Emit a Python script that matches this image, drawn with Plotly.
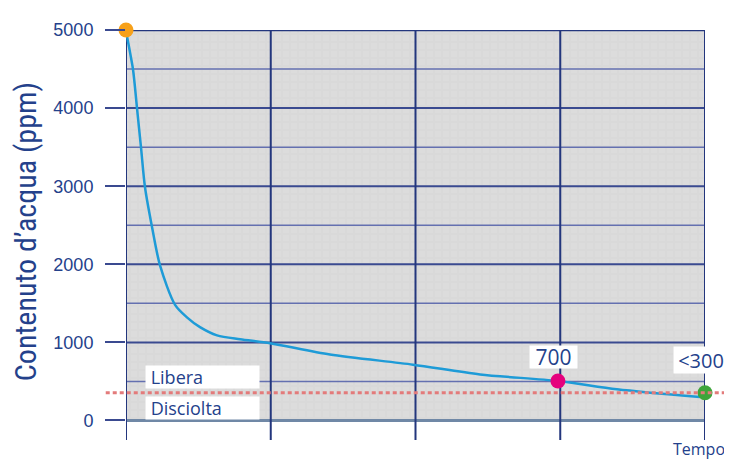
import plotly.graph_objects as go

# ---- data ----
time_pos = [0, 0.007, 0.048, 0.076, 0.104, 0.131, 0.180, 0.235, 0.339, 0.421,
            0.511, 0.629, 0.788, 0.995, 1.409, 1.983, 2.446, 2.984, 3.392, 3.965]
water_ppm = [5000, 4920, 4500, 4000, 3490, 2990, 2475, 1985, 1480, 1320,
             1195, 1090, 1040, 990, 845, 715, 590, 505, 400, 300]

point_x = [0, 2.984, 4.0]
point_y = [5000, 505, 355]
point_colors = ["#F7A11A", "#E5007D", "#3EA53A"]

saturation_ppm = 354
y_major = [0, 1000, 2000, 3000, 4000, 5000]
y_minor = [500, 1500, 2500, 3500, 4500]
x_grid = [0, 1, 2, 3, 4]
x_min, x_max = 0, 4
y_min, y_max = -250, 5000

NAVY = "#23367D"
TXT = "#24418B"

fig = go.Figure()

# patterned background area (0..5000)
fig.add_trace(go.Bar(
    x=[(x_min + x_max) / 2], y=[y_major[-1]], base=0, width=[x_max - x_min],
    marker=dict(color="#dcdcdc", line_width=0,
                pattern=dict(shape="+", fgcolor="#c9c9c9", size=8, solidity=0.12,
                             fillmode="overlay")),
    hoverinfo="skip", showlegend=False))

def seg_trace(xs, ys, color, width):
    fig.add_trace(go.Scatter(x=xs, y=ys, mode="lines",
                             line=dict(color=color, width=width),
                             hoverinfo="skip", showlegend=False))

# minor horizontal grid
xs, ys = [], []
for v in y_minor:
    xs += [x_min, x_max, None]; ys += [v, v, None]
seg_trace(xs, ys, "#6470B0", 1.5)
# major horizontal grid
xs, ys = [], []
for v in y_major[1:-1]:
    xs += [x_min, x_max, None]; ys += [v, v, None]
seg_trace(xs, ys, "#3A4A90", 2)
# zero line
seg_trace([x_min, x_max], [0, 0], "#7088A6", 3)
# top line
seg_trace([x_min, x_max], [y_major[-1], y_major[-1]], NAVY, 2.5)
# vertical grid
xs, ys = [], []
for v in x_grid:
    xs += [v, v, None]; ys += [y_min, y_max, None]
seg_trace(xs, ys, NAVY, 2)

# curve
fig.add_trace(go.Scatter(x=time_pos, y=water_ppm, mode="lines",
                         line=dict(color="#1E9BD7", width=2.5, shape="spline", smoothing=0.8),
                         hoverinfo="skip", showlegend=False))

# points
fig.add_trace(go.Scatter(x=point_x, y=point_y, mode="markers",
                         marker=dict(size=15, color=point_colors),
                         cliponaxis=False, hoverinfo="skip", showlegend=False))

# saturation dashed line
fig.add_shape(type="line", xref="paper", yref="y", x0=-0.035, x1=1.05,
              y0=saturation_ppm, y1=saturation_ppm,
              line=dict(color="#E37B7B", width=3, dash="4px,3px"), layer="above")

ann_font = dict(family="Open Sans", color=TXT)
fig.add_annotation(xref="paper", yref="y", x=0.0328, y=553, xanchor="left", yanchor="middle",
                   text="\u00a0Libera", showarrow=False, bgcolor="white", width=113, height=22,
                   align="left", borderpad=0, font=dict(size=18, **ann_font))
fig.add_annotation(xref="paper", yref="y", x=0.0328, y=163, xanchor="left", yanchor="middle",
                   text="\u00a0Disciolta", showarrow=False, bgcolor="white", width=113, height=22,
                   align="left", borderpad=0, font=dict(size=18, **ann_font))
fig.add_annotation(xref="x", yref="y", x=2.95, y=817, xanchor="center", yanchor="middle",
                   text="700", showarrow=False, bgcolor="white", width=47, height=22,
                   borderpad=0, font=dict(size=21, **ann_font))
fig.add_annotation(xref="x", yref="y", x=3.975, y=770, xanchor="center", yanchor="middle",
                   text="<300", showarrow=False, bgcolor="white", width=54, height=26,
                   borderpad=0, font=dict(size=20, **ann_font))
fig.add_annotation(xref="x", yref="paper", x=3.96, y=-0.022, xanchor="center", yanchor="middle",
                   text="Tempo", showarrow=False, font=dict(size=16, **ann_font))
fig.add_annotation(xref="paper", yref="paper", x=-0.1744, y=0.507, xanchor="center",
                   yanchor="middle", textangle=-90, text="Contenuto d\u2019acqua (ppm)",
                   showarrow=False,
                   font=dict(family="Roboto Condensed, DejaVu Sans Condensed, Liberation Sans",
                             size=30, color=TXT))

# page body has an 8px default margin: figure placed at (8, 8), sized to fit the window
fig.update_layout(
    width=724, height=451,
    margin=dict(l=118, r=27, t=14, b=19),
    paper_bgcolor="white", plot_bgcolor="white",
    xaxis=dict(range=[x_min, x_max], showgrid=False, zeroline=False, showticklabels=False,
               showline=False, ticks=""),
    yaxis=dict(range=[y_min, y_max], tickvals=y_major, ticktext=[str(v) for v in y_major],
               showgrid=False, zeroline=False, showline=False,
               ticks="outside", ticklen=20, tickwidth=2, tickcolor="#3A4A90",
               ticklabelstandoff=8,
               tickfont=dict(family="Liberation Sans", size=18, color=TXT)),
)

fig.write_html("out.html")
